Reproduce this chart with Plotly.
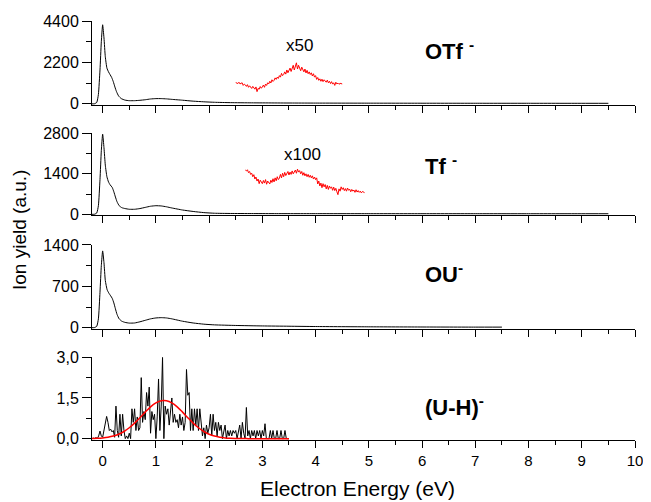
import numpy as np
import plotly.graph_objects as go

# ---------------- data ----------------
# Panel 1: OTf-
otf_x = [-0.2, -0.15, -0.11, -0.08, -0.05, -0.025, 0.0, 0.025, 0.05, 0.08, 0.11, 0.14, 0.17, 0.2, 0.23, 0.26,
         0.3, 0.35, 0.42, 0.5, 0.6, 0.7, 0.8, 0.9, 1.0, 1.1, 1.2, 1.3, 1.5, 1.7, 1.9, 2.1, 2.4, 2.8, 3.2, 3.6,
         4.0, 5.0, 6.0, 7.0, 8.0, 9.0, 9.5]
otf_y = [0, 10, 80, 500, 1800, 3300, 4200, 3500, 2500, 1900, 1700, 1550, 1400, 1180, 900, 650,
         420, 280, 200, 170, 170, 190, 220, 260, 280, 280, 265, 240, 195, 145, 110, 85, 65, 55, 50, 45,
         42, 38, 35, 33, 32, 30, 30]
# x50 magnified part of OTf-
otf50_x0, otf50_dx = 2.5, 0.02
otf50_y = [1130, 1110, 1080, 1150, 1060, 1090, 1120, 980, 1050, 1010, 930, 1020, 880, 960, 900, 820,
           930, 870, 780, 900, 650, 820, 780, 920, 830, 900, 1000, 880, 1050, 980, 1120, 1060, 1200,
           1110, 1280, 1190, 1250, 1380, 1300, 1420, 1350, 1500, 1420, 1620, 1500, 1560, 1700, 1580,
           1800, 1650, 1760, 1900, 1720, 1850, 2050, 1800, 1950, 2180, 1850, 2050, 1900, 1760, 1950,
           1820, 1700, 1850, 1640, 1780, 1600, 1700, 1560, 1650, 1480, 1600, 1420, 1500, 1300, 1400,
           1250, 1330, 1200, 1310, 1180, 1280, 1230, 1150, 1260, 1120, 1200, 1080, 1180, 1050, 1120,
           980, 1150, 1060, 1100, 1040, 1090, 1070, 1060]

# Panel 2: Tf-
tf_x = [-0.2, -0.15, -0.11, -0.08, -0.05, -0.025, 0.0, 0.025, 0.05, 0.08, 0.11, 0.14, 0.18, 0.21, 0.24, 0.27,
        0.31, 0.36, 0.42, 0.5, 0.6, 0.7, 0.8, 0.9, 1.0, 1.1, 1.2, 1.3, 1.5, 1.7, 1.9, 2.1, 2.4, 2.8, 3.2,
        4.0, 5.0, 6.0, 7.0, 8.0, 9.0, 9.5]
tf_y = [0, 5, 50, 300, 1200, 2200, 2770, 2300, 1700, 1300, 1120, 1020, 930, 780, 600, 436,
        300, 230, 200, 175, 175, 200, 240, 280, 298, 290, 260, 220, 150, 100, 60, 38, 30, 27, 25,
        24, 23, 22, 22, 21, 21, 21]
# x100 magnified part of Tf-
tf100_x0, tf100_dx = 2.68, 0.02
tf100_y = [1530, 1500, 1540, 1440, 1480, 1380, 1420, 1300, 1370, 1220, 1290, 1150, 1220, 1060, 1180,
           1100, 1060, 1170, 1080, 1200, 1040, 1150, 1090, 1050, 1180, 1100, 1230, 1120, 1260, 1160,
           1300, 1200, 1250, 1380, 1260, 1420, 1300, 1450, 1340, 1400, 1480, 1360, 1460, 1380, 1500,
           1400, 1450, 1530, 1420, 1560, 1460, 1510, 1400, 1480, 1350, 1440, 1330, 1400, 1300, 1380,
           1280, 1350, 1260, 1330, 1220, 1290, 1200, 1260, 1050, 1150, 980, 1080, 920, 1060, 950, 1030,
           880, 1000, 860, 980, 900, 950, 830, 940, 820, 900, 780, 680, 880, 800, 950, 860, 920, 820,
           890, 800, 910, 830, 870, 780, 860, 800, 840, 760, 850, 770, 820, 760, 800, 740, 790, 760, 750]

# Panel 3: OU-
ou_x = [-0.2, -0.15, -0.11, -0.08, -0.05, -0.025, 0.0, 0.025, 0.05, 0.085, 0.12, 0.15, 0.18, 0.21, 0.24, 0.27,
        0.31, 0.36, 0.42, 0.5, 0.6, 0.7, 0.8, 0.9, 1.0, 1.1, 1.2, 1.3, 1.5, 1.7, 1.9, 2.1, 2.5, 3.0, 3.5,
        4.0, 5.0, 6.0, 7.0, 7.5]
ou_y = [0, 3, 25, 150, 600, 1050, 1300, 1100, 800, 640, 580, 540, 497, 420, 320, 226,
        150, 110, 90, 78, 80, 100, 125, 150, 165, 170, 165, 150, 110, 80, 60, 48, 38, 30, 25,
        20, 15, 12, 10, 10]

# Panel 4: (U-H)-
uh_x0, uh_dx = -0.2, 0.025
uh_y = [0.0, 0.02, 0.0, 0.05, 0.0, 0.1, 0.28, 0.1, 0.05, 0.3, 0.55, 0.82, 0.6, 0.3, 0.35, 0.25,
        0.3, 0.05, 1.2, 0.3, 0.05, 0.9, 0.1, 0.9, 0.3, 0.0, 0.1, 0.0, 0.2, 0.0, 1.1, 0.6,
        1.1, 0.3, 0.8, 0.3, 0.4, 2.25, 0.6, 1.0, 0.7, 1.7, 1.2, 1.9, 0.2, 1.0, 0.7, 0.9,
        0.0, 0.8, 2.2, 0.3, 1.2, 3.0, 0.0, 1.2, 0.9, 1.1, 0.5, 1.0, 1.5, 0.6, 0.9, 0.6,
        0.7, 0.4, 0.9, 0.5, 0.8, 0.3, 0.6, 2.55, 1.6, 1.7, 0.3, 1.1, 0.3, 1.1, 0.5, 1.1,
        0.3, 1.1, 0.7, 0.1, 0.4, 0.0, 0.5, 0.2, 0.4, 0.9, 0.1, 0.9, 0.3, 0.6, 0.1, 0.6,
        0.3, 0.5, 0.0, 0.3, 0.5, 0.0, 0.3, 0.1, 0.3, 0.1, 0.3, 0.2, 0.3, 0.0, 0.2, 0.5,
        0.0, 0.6, 0.2, 0.0, 1.15, 0.1, 0.3, 0.0, 0.3, 0.1, 0.3, 0.0, 0.3, 0.1, 0.3, 0.0,
        0.3, 0.1, 0.55, 0.0, 0.0, 0.0, 0.3, 0.0, 0.3, 0.0, 0.0, 0.3, 0.0, 0.0, 0.3, 0.0,
        0.0, 0.3, 0.0, 0.0, 0.0]
fit_x = [-0.2, -0.1, 0.0, 0.1, 0.2, 0.3, 0.4, 0.5, 0.6, 0.7, 0.8, 0.9, 1.0, 1.1, 1.2, 1.3, 1.4, 1.5,
         1.6, 1.7, 1.8, 1.9, 2.0, 2.1, 2.2, 2.3, 2.4, 2.5, 2.6, 2.7, 2.8, 3.0, 3.2, 3.5]
fit_y = [0.006, 0.013, 0.028, 0.053, 0.096, 0.164, 0.264, 0.401, 0.573, 0.772, 0.979, 1.171, 1.319,
         1.400, 1.400, 1.319, 1.171, 0.979, 0.772, 0.573, 0.401, 0.264, 0.164, 0.096, 0.053, 0.028,
         0.013, 0.006, 0.002, 0.001, 0.0, 0.0, 0.0, 0.0]

labels = ["OTf <sup>-</sup>", "Tf <sup>-</sup>", "OU<sup>-</sup>", "(U-H)<sup>-</sup>"]
x_ticks = list(range(0, 11))

def grid(x0, dx, vals):
    return [round(x0 + dx * i, 4) for i in range(len(vals))]

FONT = "Liberation Sans, Arial, sans-serif"
fig = go.Figure()

blk = dict(color="black", width=1)
red = dict(color="#ff0000", width=1)

fig.add_trace(go.Scatter(x=otf_x, y=otf_y, mode="lines", line=dict(**blk, shape="spline", smoothing=0.5), xaxis="x", yaxis="y"))
fig.add_trace(go.Scatter(x=grid(otf50_x0, otf50_dx, otf50_y), y=otf50_y, mode="lines", line=red, xaxis="x", yaxis="y"))
fig.add_trace(go.Scatter(x=tf_x, y=tf_y, mode="lines", line=dict(**blk, shape="spline", smoothing=0.5), xaxis="x2", yaxis="y2"))
fig.add_trace(go.Scatter(x=grid(tf100_x0, tf100_dx, tf100_y), y=tf100_y, mode="lines", line=red, xaxis="x2", yaxis="y2"))
fig.add_trace(go.Scatter(x=ou_x, y=ou_y, mode="lines", line=dict(**blk, shape="spline", smoothing=0.5), xaxis="x3", yaxis="y3"))
fig.add_trace(go.Scatter(x=grid(uh_x0, uh_dx, uh_y), y=uh_y, mode="lines", line=blk, xaxis="x4", yaxis="y4"))
fig.add_trace(go.Scatter(x=fit_x, y=fit_y, mode="lines", line=dict(color="#ff0000", width=1.5, shape="spline"), xaxis="x4", yaxis="y4"))

domains = [[0.7995, 1.0], [0.5358, 0.732], [0.2649, 0.4654], [0.0, 0.1974]]
yranges = [[-60, 4400], [-40, 2800], [-22, 1400], [-0.05, 3.0]]
ydt = [2200, 1400, 700, 1.5]

xbase = dict(range=[-0.2, 10], showline=True, linecolor="black", linewidth=1, ticks="outside",
             ticklen=7, tickwidth=1, tickcolor="black", tickmode="array", tickvals=x_ticks,
             minor=dict(ticks="outside", ticklen=4, tickwidth=1, tickcolor="black", dtick=0.5, tick0=0),
             showgrid=False, zeroline=False, automargin=False,
             tickfont=dict(size=15, color="black", family=FONT))

# page body has an 8px margin, so the figure is made 8px smaller and margins shifted
layout = dict(width=643, height=494, margin=dict(l=84, r=16, t=13, b=62, autoexpand=False),
              paper_bgcolor="white", plot_bgcolor="white", showlegend=False,
              font=dict(family=FONT, color="black"))
for i in range(4):
    s = "" if i == 0 else str(i + 1)
    xa = dict(xbase)
    xa["anchor"] = "y" + s
    xa["showticklabels"] = (i == 3)
    if i > 0:
        xa["matches"] = "x"
    ya = dict(domain=domains[i], range=yranges[i], anchor="x" + s, showline=True, linecolor="black",
              linewidth=1, ticks="outside", ticklen=9, tickwidth=1, tickcolor="black",
              tick0=0, dtick=ydt[i], showgrid=False, zeroline=False, automargin=False,
              minor=dict(ticks="outside", ticklen=5, tickwidth=1, tickcolor="black", dtick=ydt[i] / 2, tick0=0),
              tickfont=dict(size=16, color="black", family=FONT))
    if i == 3:
        ya.update(tickmode="array", tickvals=[0, 1.5, 3.0], ticktext=["0,0", "1,5", "3,0"])
    layout["xaxis" + s] = xa
    layout["yaxis" + s] = ya

PW = 543.0
def px(page_x):
    return (page_x - 92) / PW

ann = []
lab_y = [0.9308, 0.6563, 0.3986, 0.0811]
for t, yy in zip(labels, lab_y):
    ann.append(dict(text="<b>" + t + "</b>", xref="paper", yref="paper", x=px(423), y=yy,
                    xanchor="left", yanchor="middle", showarrow=False,
                    font=dict(size=22, color="black", family=FONT)))
ann.append(dict(text="x50", xref="paper", yref="paper", x=px(299), y=0.9427, xanchor="center",
                yanchor="middle", showarrow=False, font=dict(size=17, color="black", family=FONT)))
ann.append(dict(text="x100", xref="paper", yref="paper", x=px(302), y=0.6825, xanchor="center",
                yanchor="middle", showarrow=False, font=dict(size=17, color="black", family=FONT)))
ann.append(dict(text="Ion yield (a.u.)", xref="paper", yref="paper", x=px(20), y=0.5012,
                xanchor="center", yanchor="middle", textangle=-90, showarrow=False,
                font=dict(size=19, color="black", family=FONT)))
ann.append(dict(text="Electron Energy (eV)", xref="paper", yref="paper", x=px(357), y=-0.1146,
                xanchor="center", yanchor="middle", showarrow=False,
                font=dict(size=21, color="black", family=FONT)))
layout["annotations"] = ann

fig.update_layout(**layout)
fig.write_html("out.html")
